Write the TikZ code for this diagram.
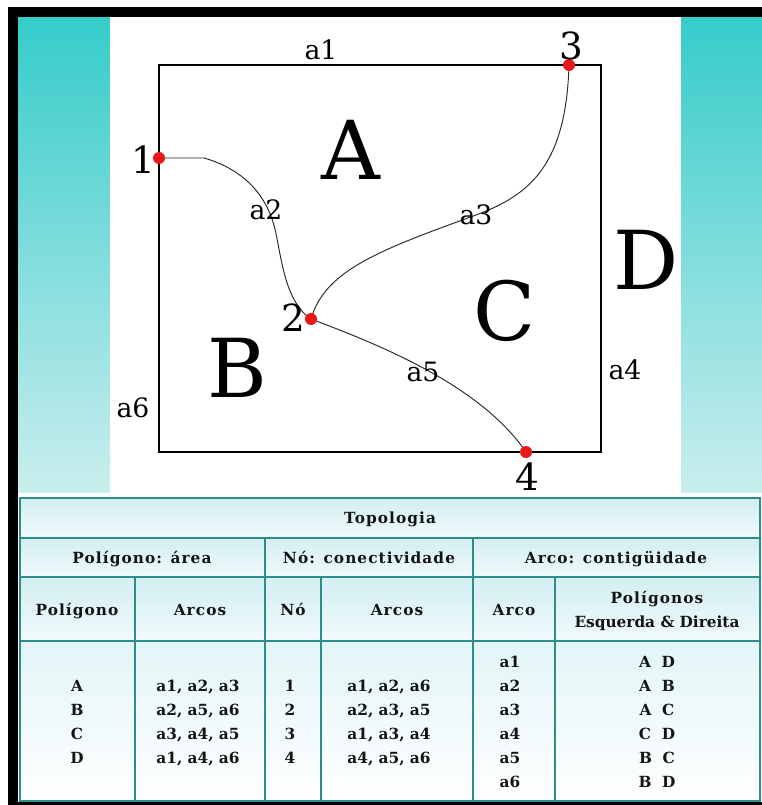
\documentclass[tikz,border=0pt]{standalone}
\usepackage{fontspec}
\setmainfont{DejaVu Serif}
\newfontfamily\tabfont{DejaVu Serif}
\newfontfamily\headfont{DejaVu Serif}[LetterSpace=7]
\definecolor{tealA}{HTML}{35CCCA}
\definecolor{tealB}{HTML}{CBEEEE}
\definecolor{gridc}{HTML}{2E8C8A}
\definecolor{cellA}{HTML}{D3EEF2}
\definecolor{cellB}{HTML}{F0FAFB}
\definecolor{cellC}{HTML}{E2F5F7}
\definecolor{dotred}{HTML}{E81818}
\begin{document}
\begin{tikzpicture}[x=0.75pt,y=-0.75pt,
  tcell/.style={font=\tabfont\bfseries\fontsize{11.5}{13}\selectfont, text=black!92, inner sep=0pt, anchor=base},
  thead/.style={font=\headfont\bfseries\fontsize{11.5}{13}\selectfont, text=black!92, inner sep=0pt, anchor=base},
  lbl/.style={font=\fontsize{20}{22}\selectfont, inner sep=0pt},
  num/.style={font=\fontsize{28}{30}\selectfont, inner sep=0pt},
  big/.style={font=\fontsize{61}{64}\selectfont, inner sep=0pt},
  dot/.style={circle, fill=dotred, minimum size=9pt, inner sep=0pt},
  arcline/.style={line width=0.7pt, black!85},
  grid/.style={line width=1.2pt, gridc}]
\useasboundingbox (0,0) rectangle (762,805);
\fill[white] (0,0) rectangle (762,805);
% background
\shade[top color=tealA,bottom color=tealB] (18,17) rectangle (762,495);
\fill[white] (110,17) rectangle (681,493);
\fill[white] (18,493) rectangle (762,498);
% black frame
\fill[black] (8,7) rectangle (762,17);
\fill[black] (8,7) rectangle (18,805);
\fill[black] (8,802) rectangle (762,805);
% diagram
\draw[line width=1.6pt] (159,65) rectangle (601,452);
\coordinate (n1) at (159,158);
\coordinate (n2) at (311,319);
\coordinate (n3) at (569,65);
\coordinate (n4) at (526,452);
\draw[arcline] (n1) -- (204,158) .. controls (232,166) and (261,184) .. (273,222)
  .. controls (281,247) and (282,300) .. (n2);
\draw[arcline] (n2) .. controls (325,270) and (380,250) .. (476,215)
  .. controls (530,195) and (566,165) .. (n3);
\draw[arcline] (n2) .. controls (380,345) and (480,385) .. (n4);
\node[dot] (d1) at (n1) {};
\node[dot] (d2) at (n2) {};
\node[dot] (d3) at (n3) {};
\node[dot] (d4) at (n4) {};
\node[lbl] (la1) at (321,50) {a1};
\node[lbl] (la2) at (266,210) {a2};
\node[lbl] (la3) at (476,215) {a3};
\node[lbl] (la4) at (625,370) {a4};
\node[lbl] (la5) at (423,372) {a5};
\node[lbl] (la6) at (133,408) {a6};
\node[num] (l1) at (143,160) {1};
\node[num] (l2) at (293,318) {2};
\node[num] (l3) at (571,46) {3};
\node[num] (l4) at (527,477) {4};
\node[big] (bA) at (351,150) {A};
\node[big] (bB) at (237,368) {B};
\node[big] (bC) at (505,311) {C};
\node[big] (bD) at (646,260) {D};
% table
\shade[top color=cellA,bottom color=cellB] (20,498) rectangle (760,538);
\shade[top color=cellA,bottom color=cellB] (20,538) rectangle (760,577);
\shade[top color=cellA,bottom color=cellB] (20,577) rectangle (760,641);
\shade[top color=cellC,bottom color=white] (20,641) rectangle (760,801);
\draw[grid] (20,498) rectangle (760,801);
\draw[grid] (20,538) -- (760,538);
\draw[grid] (20,577) -- (760,577);
\draw[grid] (20,641) -- (760,641);
\draw[grid] (265,538) -- (265,801);
\draw[grid] (473,538) -- (473,801);
\draw[grid] (135,577) -- (135,801);
\draw[grid] (321,577) -- (321,801);
\draw[grid] (555,577) -- (555,801);
\node[thead] (h0) at (390,523) {Topologia};
\node[thead] (h1) at (142,563) {Polígono: área};
\node[thead] (h2) at (369,563) {Nó: conectividade};
\node[thead] (h3) at (616,563) {Arco: contigüidade};
\node[thead] (c1) at (77,615) {Polígono};
\node[thead] (c2) at (200,615) {Arcos};
\node[thead] (c3) at (293,615) {Nó};
\node[thead] (c4) at (397,615) {Arcos};
\node[thead] (c5) at (514,615) {Arco};
\node[thead] (c6a) at (657,603) {Polígonos};
\node[tcell] (c6b) at (657,627) {Esquerda \& Direita};
\foreach \t [count=\i] in {A,B,C,D}
  \node[tcell] (p\i) at (77,667+24*\i) {\t};
\foreach \t [count=\i] in {{a1, a2, a3},{a2, a5, a6},{a3, a4, a5},{a1, a4, a6}}
  \node[tcell] (pa\i) at (198,667+24*\i) {\t};
\foreach \t [count=\i] in {1,2,3,4}
  \node[tcell] (no\i) at (290,667+24*\i) {\t};
\foreach \t [count=\i] in {{a1, a2, a6},{a2, a3, a5},{a1, a3, a4},{a4, a5, a6}}
  \node[tcell] (na\i) at (389,667+24*\i) {\t};
\foreach \t [count=\i] in {a1,a2,a3,a4,a5,a6}
  \node[tcell] (ar\i) at (510,643+24*\i) {\t};
\foreach \t [count=\i] in {A\ \ D,A\ \ B,A\ \ C,C\ \ D,B\ \ C,B\ \ D}
  \node[tcell] (lr\i) at (657,643+24*\i) {\t};
\end{tikzpicture}
\end{document}
